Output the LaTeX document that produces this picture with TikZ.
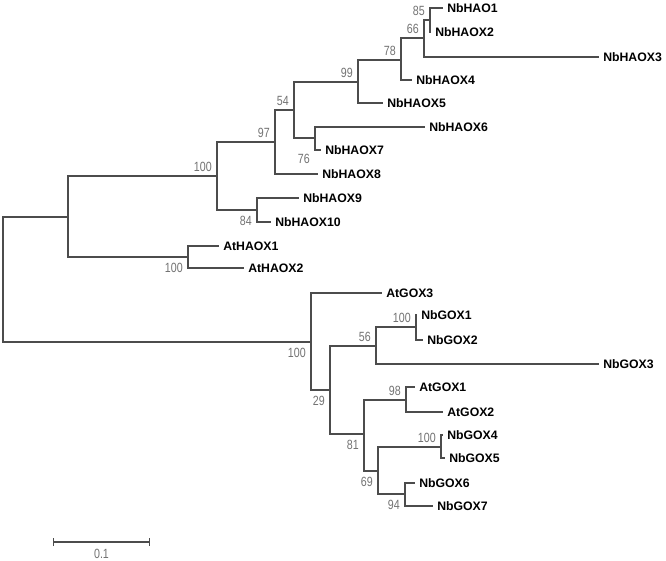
\documentclass[tikz,border=0pt]{standalone}
\usepackage{fontspec}
\setmainfont{Liberation Sans}
\newfontfamily\bsfont[FakeStretch=0.8]{Liberation Sans}
\usetikzlibrary{arrows.meta}

\begin{document}
\begin{tikzpicture}[
    x=0.75pt, y=-0.75pt,
    branch/.style={draw=black!70, line width=0.8pt},
    leaf/.style={anchor=west, inner sep=3pt, font=\fontsize{9.2}{10}\selectfont\bfseries},
    boot/.style={inner sep=0pt, text=black!55, font=\bsfont\fontsize{10}{11}\selectfont},
    up/.style={boot, anchor=south east, xshift=-3.75pt, yshift=3pt},
    down/.style={boot, anchor=north east, xshift=-3.75pt, yshift=-4.5pt}
]
\fill[white] (0,0) rectangle (666,560);
\useasboundingbox (0,0) rectangle (666,560);

% internal nodes
\coordinate (root) at (3,279.5);
\coordinate (hao) at (68,217);
\coordinate (hA) at (217,176);
\coordinate (h97) at (275,142);
\coordinate (h54) at (294,110);
\coordinate (h99) at (358,82);
\coordinate (h78) at (401,60);
\coordinate (h66) at (424,38);
\coordinate (h85) at (430,20);
\coordinate (h76) at (315,138);
\coordinate (h84) at (257,210);
\coordinate (at) at (188,257);
\coordinate (gox) at (311,342);
\coordinate (g29) at (330,390);
\coordinate (g56) at (376,346);
\coordinate (g100a) at (416,327);
\coordinate (g81) at (364,434);
\coordinate (g98) at (406,400);
\coordinate (g69) at (378,471);
\coordinate (g100b) at (441,447);
\coordinate (g94) at (405,494);

% leaves
\node[leaf] (NbHAO1) at (443,8) {NbHAO1};
\node[leaf] (NbHAOX2) at (431,32) {NbHAOX2};
\node[leaf] (NbHAOX3) at (599,57) {NbHAOX3};
\node[leaf] (NbHAOX4) at (412,80) {NbHAOX4};
\node[leaf] (NbHAOX5) at (383,103) {NbHAOX5};
\node[leaf] (NbHAOX6) at (425,127) {NbHAOX6};
\node[leaf] (NbHAOX7) at (321,150) {NbHAOX7};
\node[leaf] (NbHAOX8) at (318,174) {NbHAOX8};
\node[leaf] (NbHAOX9) at (299,198) {NbHAOX9};
\node[leaf] (NbHAOX10) at (271,222) {NbHAOX10};
\node[leaf] (AtHAOX1) at (219,246) {AtHAOX1};
\node[leaf] (AtHAOX2) at (244,268) {AtHAOX2};
\node[leaf] (AtGOX3) at (382,293) {AtGOX3};
\node[leaf] (NbGOX1) at (417,315) {NbGOX1};
\node[leaf] (NbGOX2) at (423,340) {NbGOX2};
\node[leaf] (NbGOX3) at (599,364) {NbGOX3};
\node[leaf] (AtGOX1) at (415,387) {AtGOX1};
\node[leaf] (AtGOX2) at (443,412) {AtGOX2};
\node[leaf] (NbGOX4) at (443,435) {NbGOX4};
\node[leaf] (NbGOX5) at (445,458) {NbGOX5};
\node[leaf] (NbGOX6) at (415,483) {NbGOX6};
\node[leaf] (NbGOX7) at (433,506) {NbGOX7};

% branches
\foreach \p/\c in {root/hao, root/gox, hao/hA, hao/at, hA/h97, hA/h84, h97/h54,
    h54/h99, h54/h76, h99/h78, h78/h66, h66/h85, gox/g29, g29/g56, g29/g81,
    g56/g100a, g81/g98, g81/g69, g69/g100b, g69/g94}
    \draw[branch] (\p) |- (\c);
\foreach \p/\c in {h85/NbHAO1, h85/NbHAOX2, h66/NbHAOX3, h78/NbHAOX4, h99/NbHAOX5,
    h76/NbHAOX6, h76/NbHAOX7, h97/NbHAOX8, h84/NbHAOX9, h84/NbHAOX10,
    at/AtHAOX1, at/AtHAOX2, gox/AtGOX3, g100a/NbGOX1, g100a/NbGOX2, g56/NbGOX3,
    g98/AtGOX1, g98/AtGOX2, g100b/NbGOX4, g100b/NbGOX5, g94/NbGOX6, g94/NbGOX7}
    \draw[branch] (\p) |- (\c.west);

% bootstrap values
\foreach \n/\v in {hA/100, h97/97, h54/54, h99/99, h78/78, h66/66, h85/85,
    g56/56, g100a/100, g98/98, g100b/100}
    \node[up] at (\n) {\v};
\foreach \n/\v in {at/100, h84/84, gox/100, g29/29, g81/81, g69/69, g94/94}
    \node[down] at (\n) {\v};
\node[down, yshift=-7.5pt] at (h76) {76};

% scale bar
\coordinate (sbL) at (53,542);
\coordinate (sbR) at (150,542);
\draw[branch, {Bar[width=6pt]}-{Bar[width=6pt]}] (sbL) -- (sbR)
    node[boot, midway, below=5pt] {0.1};

\end{tikzpicture}
\end{document}
